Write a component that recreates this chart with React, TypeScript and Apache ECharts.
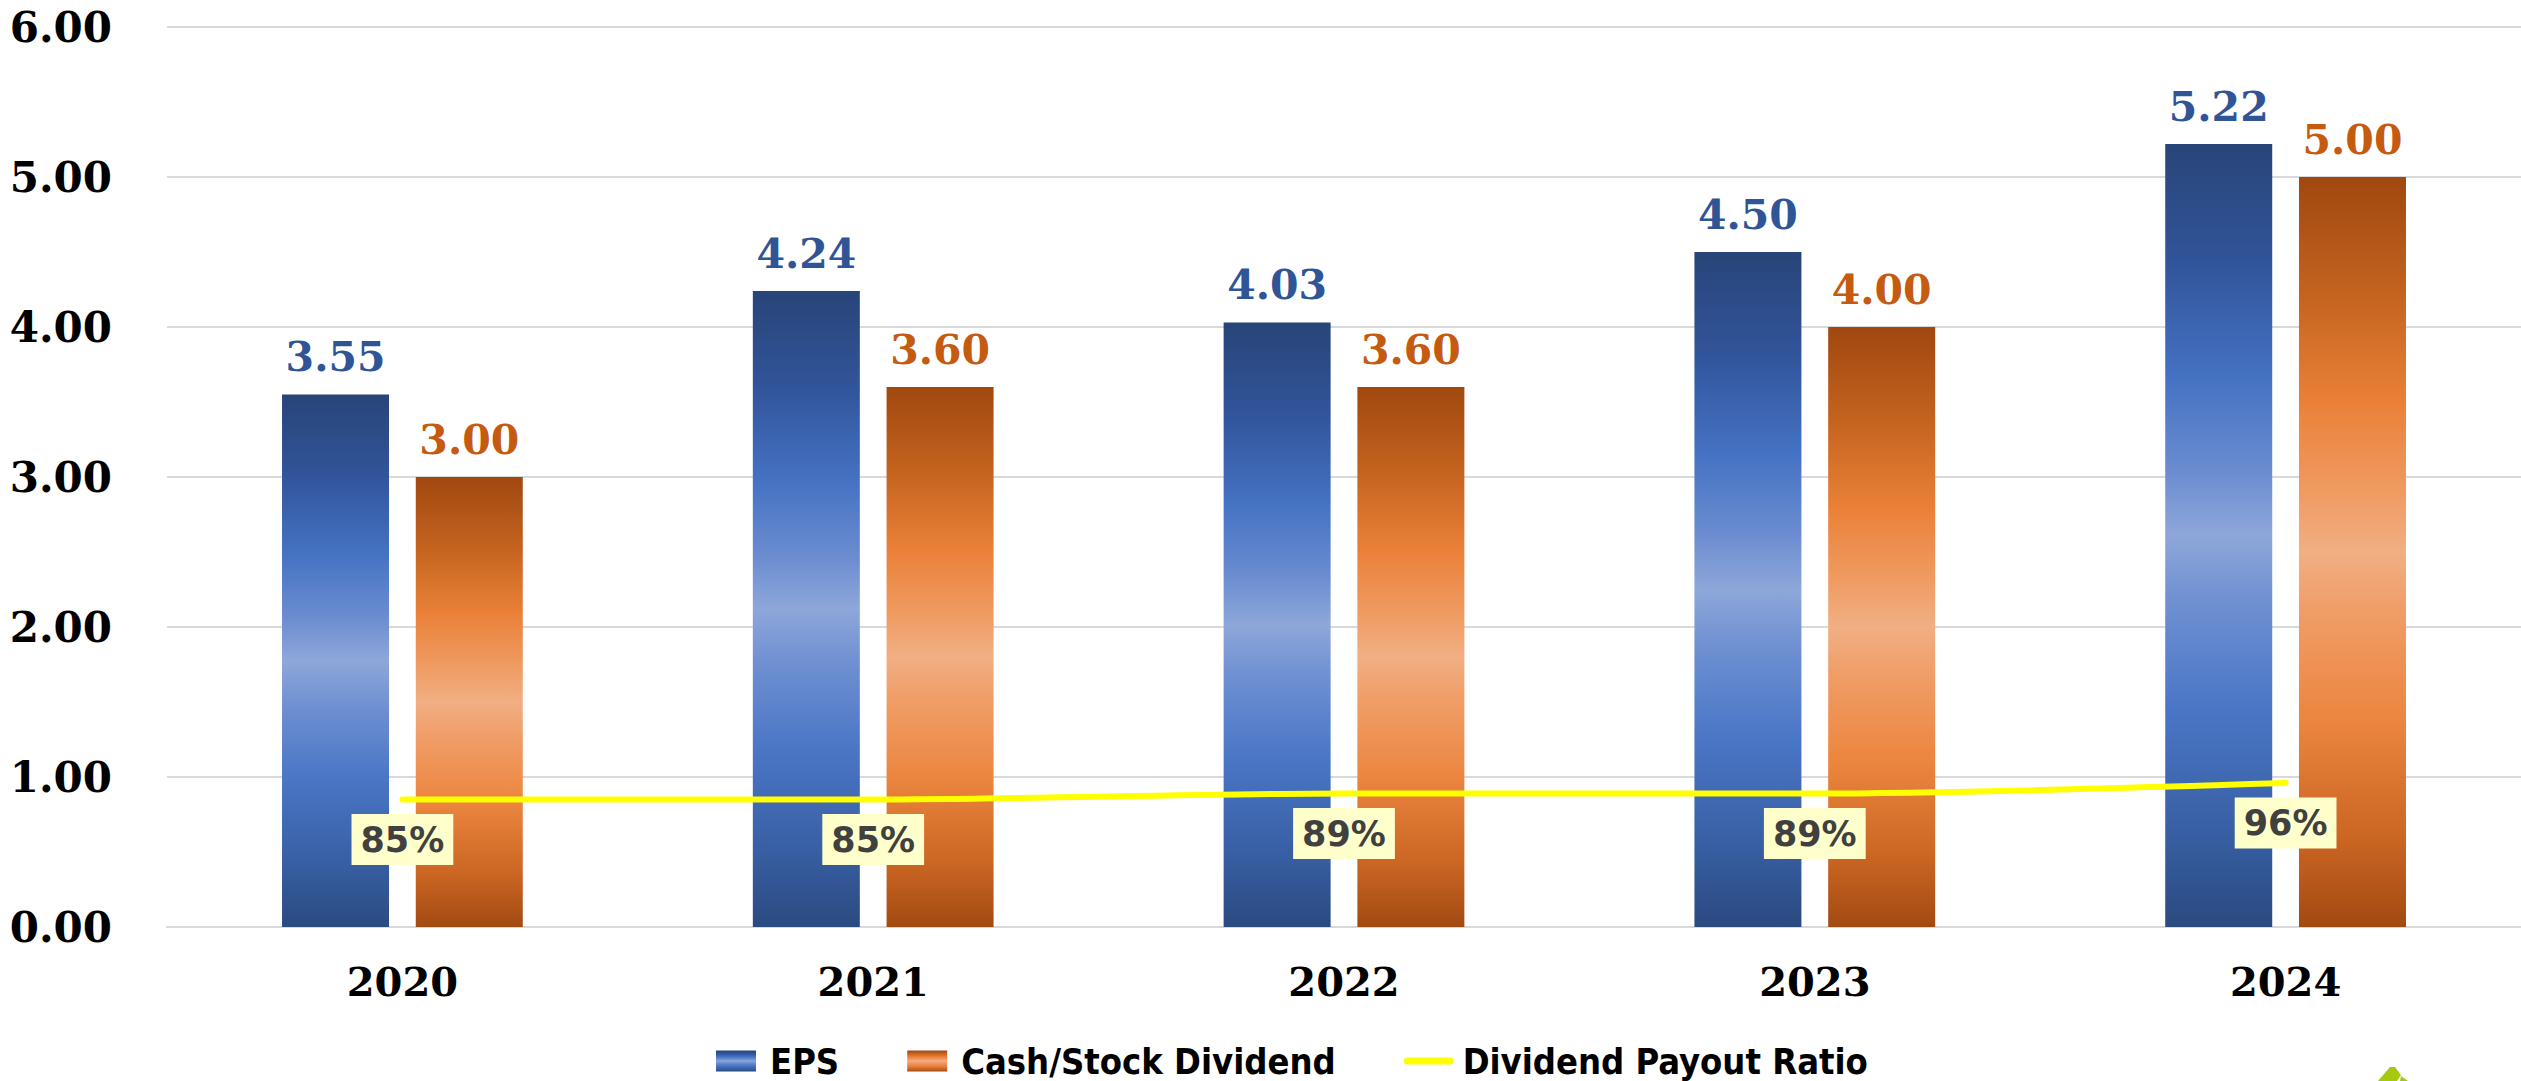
import React, { useEffect, useRef } from "react";
import * as echarts from "echarts";

// Yearly figures
const categories = ["2020", "2021", "2022", "2023", "2024"];
const epsValues = [3.55, 4.24, 4.03, 4.5, 5.22];
const dividendValues = [3.0, 3.6, 3.6, 4.0, 5.0];
const payoutRatio = [0.85, 0.85, 0.89, 0.89, 0.96];

// Value axis ticks
const yMin = 0;
const yMax = 6;
const yInterval = 1;

const SERIF = "'DejaVu Serif', 'Liberation Serif', serif";
const SANS = "'DejaVu Sans', 'Liberation Sans', sans-serif";
const NARROW = "'Liberation Sans Narrow', 'DejaVu Sans Condensed', 'Liberation Sans', sans-serif";

const blueFill = new echarts.graphic.LinearGradient(0, 0, 0, 1, [
  { offset: 0, color: "#284578" },
  { offset: 0.15, color: "#31549A" },
  { offset: 0.3, color: "#4572C3" },
  { offset: 0.42, color: "#6B8DD0" },
  { offset: 0.5, color: "#8EA7DA" },
  { offset: 0.58, color: "#7091D2" },
  { offset: 0.72, color: "#4A76C6" },
  { offset: 0.88, color: "#385FA3" },
  { offset: 1, color: "#2A4A80" },
]);

const orangeFill = new echarts.graphic.LinearGradient(0, 0, 0, 1, [
  { offset: 0, color: "#A04810" },
  { offset: 0.15, color: "#C2621E" },
  { offset: 0.3, color: "#EA8038" },
  { offset: 0.42, color: "#EF9B62" },
  { offset: 0.5, color: "#F1AF83" },
  { offset: 0.58, color: "#F09D67" },
  { offset: 0.72, color: "#EC8640" },
  { offset: 0.88, color: "#CB6623" },
  { offset: 1, color: "#A24A12" },
]);

export default function App() {
  const ref = useRef<HTMLDivElement>(null);

  useEffect(() => {
    if (!ref.current) return;
    const chart = echarts.init(ref.current, undefined, { renderer: "svg" });

    chart.setOption({
      animation: false,
      backgroundColor: "#ffffff",
      grid: { left: 167, right: 0, top: 27, height: 900 },
      legend: {
        left: 711,
        top: 1038,
        itemWidth: 50,
        itemHeight: 21,
        itemGap: 68,
        symbolKeepAspect: true,
        textStyle: {
          fontFamily: NARROW,
          fontWeight: "bold",
          fontSize: 36,
          lineHeight: 36,
          color: "#000000",
          padding: [0, 0, 0, 4],
        },
        data: [
          { name: "EPS", icon: "path://M0,0h40v21h-40z" },
          { name: "Cash/Stock Dividend", icon: "path://M0,0h40v21h-40z" },
          { name: "Dividend Payout Ratio", icon: "path://M3.5,0h43a3.5,3.5 0 0 1 0,7h-43a3.5,3.5 0 0 1 0,-7z" },
        ],
      },
      xAxis: {
        type: "category",
        data: categories,
        axisLine: { show: true, lineStyle: { color: "#D9D9D9", width: 2 } },
        axisTick: { show: false },
        axisLabel: {
          fontFamily: SERIF,
          fontWeight: "bold",
          fontSize: 40,
          color: "#000000",
          margin: 34,
        },
      },
      yAxis: {
        type: "value",
        min: yMin,
        max: yMax,
        interval: yInterval,
        axisLine: { show: false },
        axisTick: { show: false },
        splitLine: { lineStyle: { color: "#D9D9D9", width: 2 } },
        axisLabel: {
          fontFamily: SERIF,
          fontWeight: "bold",
          fontSize: 42,
          color: "#000000",
          margin: 55,
          formatter: (v: number) => v.toFixed(2),
        },
      },
      series: [
        {
          name: "EPS",
          type: "bar",
          data: epsValues,
          barWidth: 107,
          barGap: "25%",
          itemStyle: { color: blueFill },
          label: {
            show: true,
            position: "top",
            distance: 17,
            fontFamily: SERIF,
            fontWeight: "bold",
            fontSize: 41,
            color: "#2F5597",
            formatter: (p: any) => Number(p.value).toFixed(2),
          },
        },
        {
          name: "Cash/Stock Dividend",
          type: "bar",
          data: dividendValues,
          barWidth: 107,
          barGap: "25%",
          itemStyle: { color: orangeFill },
          label: {
            show: true,
            position: "top",
            distance: 17,
            fontFamily: SERIF,
            fontWeight: "bold",
            fontSize: 41,
            color: "#C55A11",
            formatter: (p: any) => Number(p.value).toFixed(2),
          },
        },
        {
          name: "Dividend Payout Ratio",
          type: "line",
          data: payoutRatio,
          smooth: 0.3,
          symbol: "circle",
          symbolSize: 1,
          showSymbol: true,
          itemStyle: { color: "#FFFF00" },
          lineStyle: { color: "#FFFF00", width: 6, cap: "round" },
          z: 5,
          label: {
            show: true,
            position: "bottom",
            distance: 14,
            backgroundColor: "#FFFFCC",
            padding: [8, 9, 8, 9],
            fontFamily: SANS,
            fontWeight: "bold",
            fontSize: 35,
            color: "#404040",
            formatter: (p: any) => Math.round(Number(p.value) * 100) + "%",
          },
        },
      ],
      graphic: [
        {
          type: "polygon",
          shape: {
            points: [
              [2390, 1067],
              [2395, 1067],
              [2401, 1075],
              [2397, 1081],
              [2378, 1081],
            ],
          },
          style: { fill: "#A4C90F" },
        },
        {
          type: "polygon",
          shape: {
            points: [
              [2401, 1076],
              [2408, 1081],
              [2400, 1081],
            ],
          },
          style: { fill: "#A4C90F" },
        },
      ],
    });

    return () => chart.dispose();
  }, []);

  return (
    <div
      ref={ref}
      style={{ position: "absolute", left: 0, top: 0, width: 2521, height: 1081, background: "#ffffff" }}
    />
  );
}
